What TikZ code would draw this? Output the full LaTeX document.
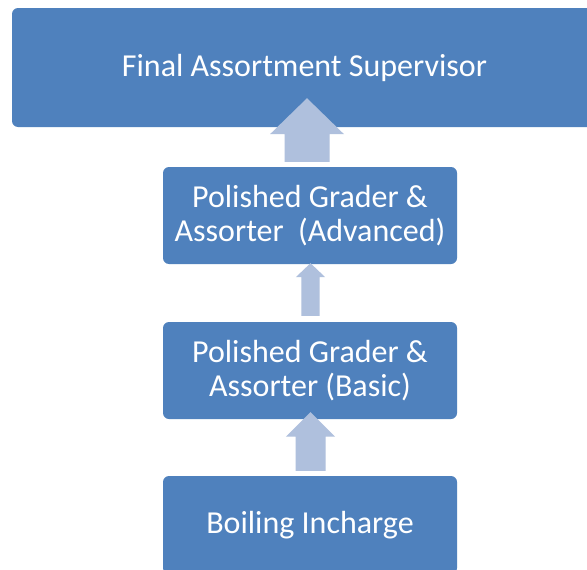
\documentclass[tikz,border=0pt]{standalone}
\usepackage{fontspec}
\setmainfont{Carlito}
\usetikzlibrary{calc}
\definecolor{boxblue}{HTML}{4F81BD}
\definecolor{arrowblue}{HTML}{AFC0DD}
\tikzset{
  boxfont/.style={font=\fontsize{32}{34.5}\selectfont},
  rolebox/.style={fill=boxblue, draw=none, rounded corners=6pt, text=white,
    align=center, inner sep=0pt, boxfont},
  arrowfill/.style={fill=arrowblue, draw=none}
}
% #1 lower node, #2 upper node, #3 gap below, #4 overlap of tip, #5 shaft half width,
% #6 head half width, #7 head length, #8 x shift
\newcommand\blockup[8]{%
  \fill[arrowfill] let \p1=(#1.north), \p2=(#2.south) in
    (\x1+#8-#5,\y1+#3) -- (\x1+#8-#5,\y2+#4-#7) -- (\x1+#8-#6,\y2+#4-#7)
    -- (\x1+#8,\y2+#4) -- (\x1+#8+#6,\y2+#4-#7) -- (\x1+#8+#5,\y2+#4-#7)
    -- (\x1+#8+#5,\y1+#3) -- cycle;}
\begin{document}
\begin{tikzpicture}[x=1pt,y=-1pt]
\clip (0,0) rectangle (587,570);
\fill[white] (0,0) rectangle (587,570);
\node[rolebox, minimum width=590pt, minimum height=119pt] (fas) at (307,67.5) {};
\node[text=white, boxfont, inner sep=0pt] (fastext) at (304.5,67.5) {Final Assortment Supervisor};
\node[rolebox, minimum width=294pt, minimum height=97pt] (adv) at (310,215.5) {Polished Grader \&\\Assorter\ \ (Advanced)};
\node[rolebox, minimum width=294pt, minimum height=97pt] (bas) at (310,370.5) {Polished Grader \&\\Assorter (Basic)};
\node[rolebox, minimum width=294pt, minimum height=98pt] (boil) at (310,525) {Boiling Incharge};
\blockup{adv}{fas}{5pt}{29pt}{22.5pt}{37pt}{36pt}{-3pt}
\blockup{bas}{adv}{6pt}{1pt}{9.2pt}{14.7pt}{14pt}{0.5pt}
\blockup{boil}{bas}{5pt}{7pt}{15pt}{24.7pt}{24.5pt}{0.5pt}
\end{tikzpicture}
\end{document}
